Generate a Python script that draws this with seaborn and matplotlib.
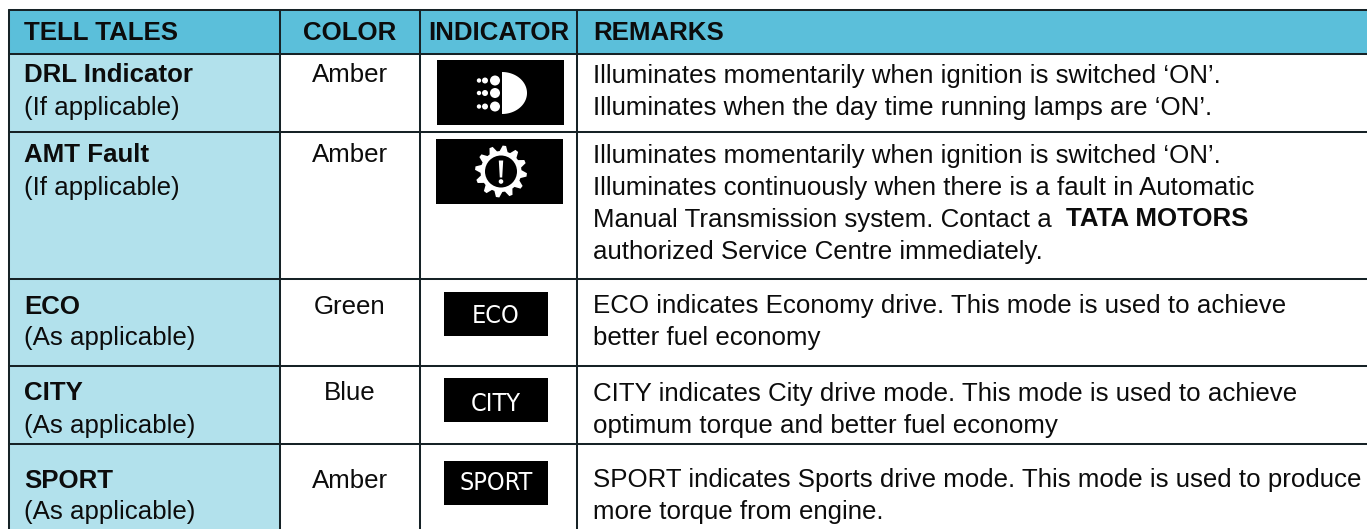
import numpy as np
import pandas as pd
import matplotlib
matplotlib.use("Agg")
import matplotlib.pyplot as plt
from matplotlib.patches import Rectangle, Circle, Polygon
import seaborn as sns

# ---- content ----
headers = ["TELL TALES", "COLOR", "INDICATOR", "REMARKS"]
tell_tales = ["DRL Indicator", "AMT Fault", "ECO", "CITY", "SPORT"]
applicability = ["(If applicable)", "(If applicable)", "(As applicable)", "(As applicable)", "(As applicable)"]
colour_names = ["Amber", "Amber", "Green", "Blue", "Amber"]
indicator_labels = ["", "", "ECO", "CITY", "SPORT"]
remarks = [
    ["Illuminates momentarily when ignition is switched ‘ON’.",
     "Illuminates when the day time running lamps are ‘ON’."],
    ["Illuminates momentarily when ignition is switched ‘ON’.",
     "Illuminates continuously when there is a fault in Automatic",
     "Manual Transmission system. Contact a",
     "authorized Service Centre immediately."],
    ["ECO indicates Economy drive. This mode is used to achieve",
     "better fuel economy"],
    ["CITY indicates City drive mode. This mode is used to achieve",
     "optimum torque and better fuel economy"],
    ["SPORT indicates Sports drive mode. This mode is used to produce",
     "more torque from engine."],
]
bold_remark = "TATA MOTORS"

# ---- layout (pixels, text y = baseline) ----
W, H = 1367, 529
col_x = [8.5, 280, 420, 577, W]
row_y = [9.5, 54, 132, 279, 366, 444, H]
header_y = 40.5
title_y = [82.5, 162.5, 313.5, 400.5, 487.5]
sub_y = [114.5, 194.5, 345.5, 432.5, 519.5]
remark_y = [[82.5, 114.5], [162.5, 194.5, 226.5, 258.5], [313.5, 345.5], [400.5, 432.5], [487.5, 519.5]]
icon_boxes = [(437, 60, 564, 125), (436, 139, 563, 204), (444, 292, 548, 336),
              (444, 378, 548, 422), (444, 461, 548, 505)]
label_base = [0, 0, 323, 411, 490]
HEAD, CELL, INK, TXT = "#5BBFDA", "#B2E1EC", "#162226", "#0c0c0c"
FS = 18.6

sns.set_theme(style="white")
plt.rcParams["font.family"] = ["Liberation Sans", "DejaVu Sans"]
fig = plt.figure(figsize=(W / 100, H / 100), dpi=100)
ax = fig.add_axes([0, 0, 1, 1])

ax.add_patch(Rectangle((col_x[0], row_y[0]), W - col_x[0], row_y[1] - row_y[0], fc=HEAD, ec="none", zorder=0))
ax.add_patch(Rectangle((col_x[0], row_y[1]), col_x[1] - col_x[0], H - row_y[1], fc=CELL, ec="none", zorder=0))

# rules
rules = []
for i, y in enumerate(row_y[:-1]):
    rules += [(f"h{i}", col_x[0], y), (f"h{i}", W, y)]
for i, x in enumerate(col_x[:-1]):
    rules += [(f"v{i}", x, row_y[0]), (f"v{i}", x, H)]
df = pd.DataFrame(rules, columns=["rule", "x", "y"])
sns.lineplot(data=df, x="x", y="y", units="rule", estimator=None, sort=False,
             color=INK, linewidth=1.45, legend=False, ax=ax, zorder=3)

bold = dict(fontsize=FS, fontweight="bold", va="baseline", color=TXT)
plain = dict(fontsize=FS, va="baseline", color=TXT)

# header
ax.text(24, header_y, headers[0], **bold)
ax.text(350, header_y, headers[1], ha="center", **bold)
ax.text(499, header_y, headers[2], ha="center", **bold)
ax.text(593, header_y, headers[3], **bold)

for i in range(len(tell_tales)):
    ax.text(24, title_y[i], tell_tales[i], **bold)
    ax.text(24, sub_y[i], applicability[i], **plain)
    ax.text(350, title_y[i], colour_names[i], ha="center", **plain)
    for line, y in zip(remarks[i], remark_y[i]):
        ax.text(593, y, line, **plain)
    x0, y0, x1, y1 = icon_boxes[i]
    ax.add_patch(Rectangle((x0, y0), x1 - x0, y1 - y0, fc="black", ec="none", zorder=2))
    if indicator_labels[i]:
        ax.text((x0 + x1) / 2, label_base[i], indicator_labels[i], color="white", fontsize=18,
                family="DejaVu Sans", stretch="condensed", ha="center", va="baseline", zorder=4)

ax.text(1066, remark_y[1][2], bold_remark, **bold)

# DRL lamp icon
cx, cy = 502, 93
t = np.linspace(-np.pi / 2, np.pi / 2, 60)
ax.add_patch(Polygon(np.c_[cx + 25 * np.cos(t), cy + 21 * np.sin(t)], closed=True, fc="white", ec="none", zorder=4))
for dy in (-12.5, 0, 13.5):
    for dx, r in ((-23, 2.2), (-17, 3), (-7, 5)):
        ax.add_patch(Circle((cx + dx, cy + dy), r, fc="white", ec="none", zorder=4))

# gear fault icon
gx, gy = 501, 171.5
n = 12
ang = np.linspace(0, 2 * np.pi, n * 4, endpoint=False) + np.pi / n / 4
rad = np.tile([26, 26, 20.5, 20.5], n)
ax.add_patch(Polygon(np.c_[gx + rad * np.cos(ang), gy + rad * np.sin(ang)], closed=True, fc="white", ec="none", zorder=4))
ax.add_patch(Circle((gx, gy), 16, fc="black", ec="none", zorder=5))
ax.add_patch(Polygon([(gx - 2.2, gy - 11), (gx + 2.2, gy - 11), (gx + 1.2, gy + 6), (gx - 1.2, gy + 6)], fc="white", ec="none", zorder=6))
ax.add_patch(Circle((gx, gy + 10), 2.3, fc="white", ec="none", zorder=6))

ax.set_xlim(0, W)
ax.set_ylim(H, 0)
ax.set_xlabel("")
ax.set_ylabel("")
ax.axis("off")
fig.savefig("out.png", dpi=100, facecolor="white")
